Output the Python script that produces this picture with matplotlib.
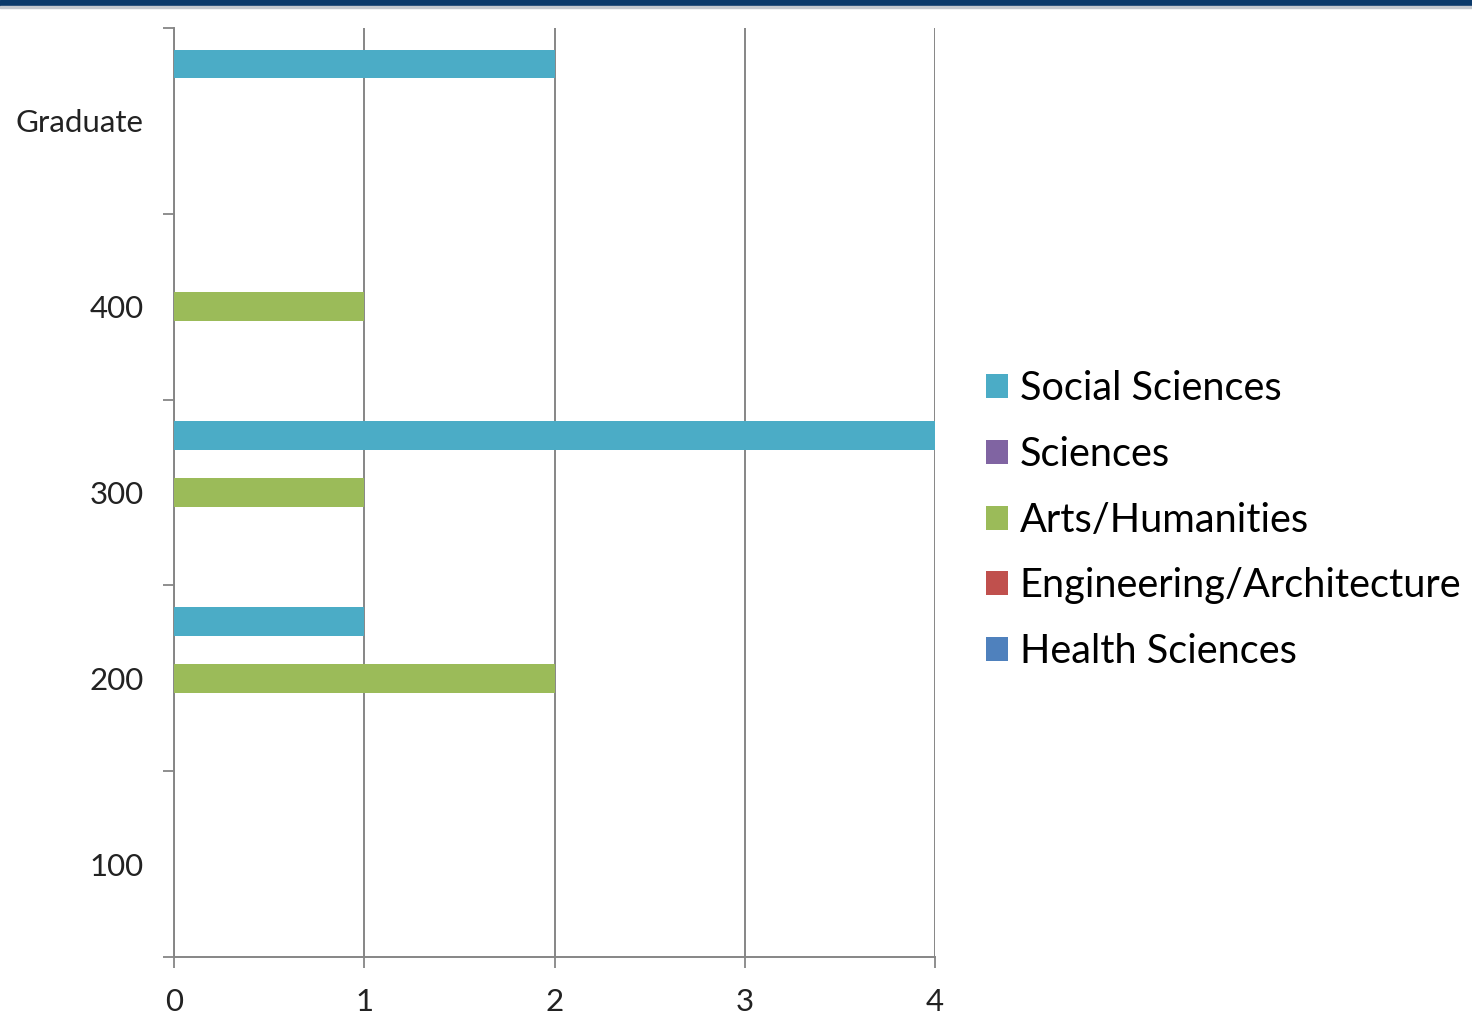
import numpy as np
import matplotlib.pyplot as plt
from matplotlib.patches import Rectangle

levels = ['100', '200', '300', '400', 'Graduate']
# plotted bottom to top within each group
series = ['Health Sciences', 'Engineering/Architecture', 'Arts/Humanities', 'Sciences', 'Social Sciences']
health = [0, 0, 0, 0, 0]
engineering = [0, 0, 0, 0, 0]
arts = [0, 2, 1, 1, 0]
sciences = [0, 0, 0, 0, 0]
social = [0, 1, 4, 0, 2]
colors = ['#4F81BD', '#C0504D', '#9BBB59', '#8064A2', '#4BACC6']

plt.rcParams['font.family'] = ['Lato', 'DejaVu Sans']

fig = plt.figure(figsize=(14.72, 10.34), dpi=100)
ax = fig.add_axes([174 / 1472, 77 / 1034, (935 - 174) / 1472, (957 - 28) / 1034])

# navy strip across the top
fig.patches.append(Rectangle((0, 1 - 6 / 1034), 1, 6 / 1034, transform=fig.transFigure,
                             color='#0b3a6b', zorder=10))
fig.patches.append(Rectangle((0, 1 - 8 / 1034), 1, 2 / 1034, transform=fig.transFigure,
                             color='#c4c8ce', zorder=10))

y = np.arange(len(levels))
h = 0.153
values = [health, engineering, arts, sciences, social]
for i, (name, vals, c) in enumerate(zip(series, values, colors)):
    ax.barh(y + (i - 2) * h, vals, height=h, color=c, label=name, zorder=3)

gray = '#868686'
ax.set_xlim(0, 4)
ax.set_ylim(-0.5, 4.5)
ax.set_xticks([0, 1, 2, 3, 4])
ax.set_yticks(y)
ax.set_yticklabels(levels)
ax.set_yticks(np.arange(-0.5, 5, 1), minor=True)
ax.tick_params(axis='y', which='major', length=0, pad=22, labelsize=22.5, labelcolor='#222222')
ax.tick_params(axis='y', which='minor', length=8, width=1.3, color=gray, direction='out')
ax.tick_params(axis='x', length=8, width=1.3, color=gray, pad=14, labelsize=22.5, labelcolor='#222222')
ax.grid(axis='x', color=gray, linewidth=1.4, zorder=0)
for s in ['top', 'right']:
    ax.spines[s].set_visible(False)
for s in ['left', 'bottom']:
    ax.spines[s].set_color(gray)
    ax.spines[s].set_linewidth(1.4)

handles, labels = ax.get_legend_handles_labels()
fig.legend(handles[::-1], labels[::-1], loc='center left', bbox_to_anchor=(986 / 1472, 0.497),
           frameon=False, fontsize=28.6, handlelength=0.55, handleheight=0.55,
           handletextpad=0.3, labelspacing=0.72, borderpad=0, borderaxespad=0)

fig.savefig('out.png', dpi=100, facecolor='white')
